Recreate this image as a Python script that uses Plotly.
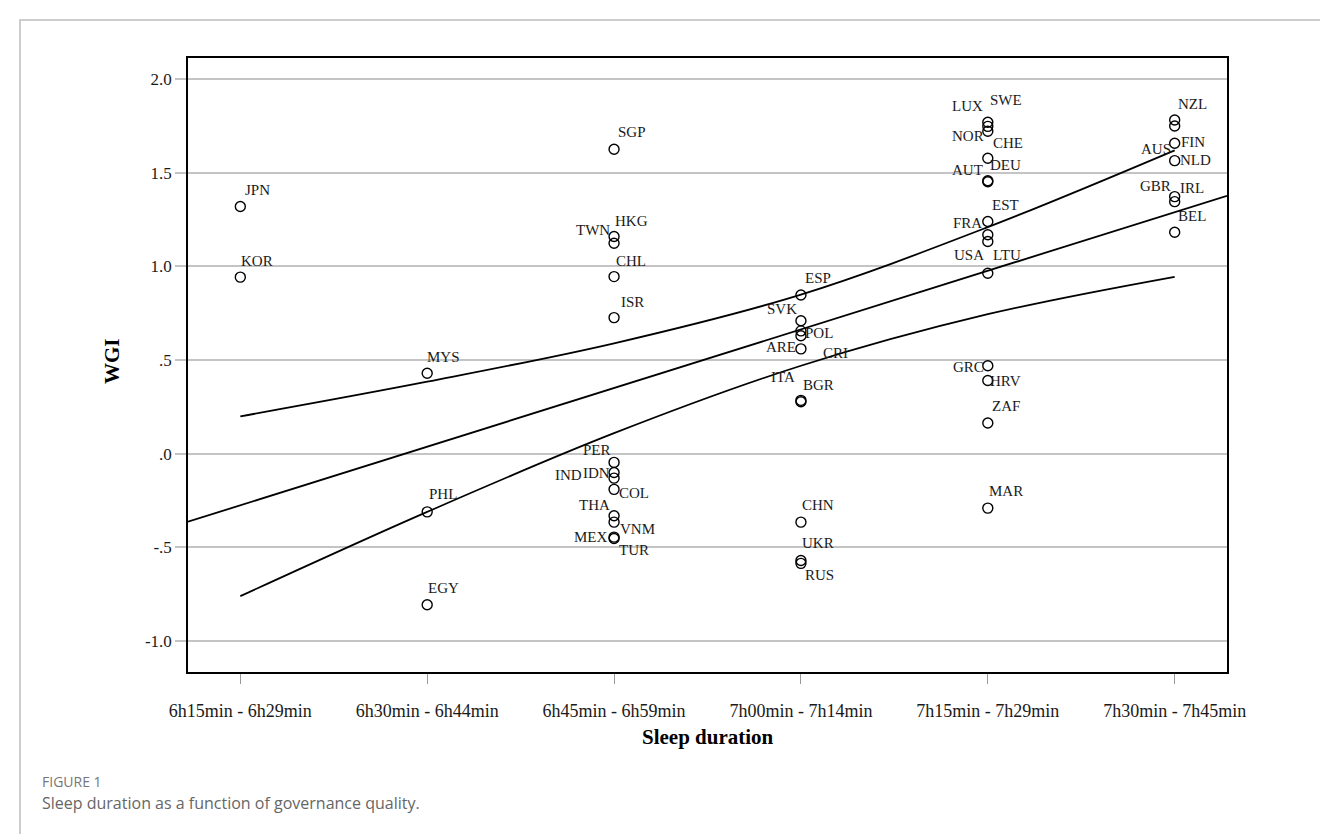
import plotly.graph_objects as go

# Sleep-duration bands shown on the x axis
categories = ["6h15min - 6h29min", "6h30min - 6h44min", "6h45min - 6h59min",
              "7h00min - 7h14min", "7h15min - 7h29min", "7h30min - 7h45min"]

# Countries, their sleep-duration band and governance score (WGI)
country = ["JPN", "KOR",
           "MYS", "PHL", "EGY",
           "SGP", "HKG", "TWN", "CHL", "ISR", "PER", "IDN", "IND", "COL",
           "THA", "VNM", "MEX", "TUR",
           "ESP", "SVK", "POL", "CRI", "ARE", "ITA", "BGR", "CHN", "UKR", "RUS",
           "SWE", "LUX", "NOR", "CHE", "DEU", "AUT", "EST", "FRA", "USA", "LTU",
           "GRC", "HRV", "ZAF", "MAR",
           "NZL", "FIN", "AUS", "NLD", "GBR", "IRL", "BEL"]
band = ([categories[0]] * 2 + [categories[1]] * 3 + [categories[2]] * 13 +
        [categories[3]] * 10 + [categories[4]] * 14 + [categories[5]] * 7)
wgi = [1.32, 0.943,
       0.43, -0.31, -0.806,
       1.626, 1.16, 1.124, 0.946, 0.727, -0.046, -0.10, -0.13, -0.19,
       -0.331, -0.365, -0.445, -0.452,
       0.848, 0.71, 0.656, 0.63, 0.56, 0.285, 0.278, -0.365, -0.57, -0.585,
       1.77, 1.748, 1.722, 1.578, 1.458, 1.452, 1.24, 1.169, 1.133, 0.964,
       0.47, 0.391, 0.164, -0.29,
       1.782, 1.75, 1.658, 1.565, 1.373, 1.346, 1.183]

# Linear fit of WGI on sleep band, and the 95% CI of the mean at each band
fit_intercept = -0.275
fit_slope = 0.313
ci_upper = [0.20, 0.385, 0.59, 0.85, 1.21, 1.62]
ci_lower = [-0.76, -0.31, 0.11, 0.47, 0.745, 0.945]

# Y tick labels
y_ticks = [-1.0, -0.5, 0.0, 0.5, 1.0, 1.5, 2.0]
y_ticktext = ["-1.0", "-.5", ".0", ".5", "1.0", "1.5", "2.0"]

# Label placement (pixels right, pixels down) next to each marker
label_offset = {
    "JPN": (17, -17), "KOR": (17, -16),
    "MYS": (16, -16), "PHL": (16, -18), "EGY": (16, -17),
    "SGP": (18, -17), "HKG": (17, -16), "TWN": (-21, -13), "CHL": (17, -16),
    "ISR": (18, -16), "PER": (-17, -12), "IDN": (-18, 0), "IND": (-46, -3),
    "COL": (20, 4), "THA": (-20, -11), "VNM": (23, 7), "MEX": (-23, 0),
    "TUR": (20, 12),
    "ESP": (17, -17), "SVK": (-19, -12), "POL": (18, 2), "CRI": (35, 17),
    "ARE": (-20, -2), "ITA": (-18, -23), "BGR": (18, -17), "CHN": (17, -17),
    "UKR": (17, -18), "RUS": (19, 12),
    "SWE": (18, -22), "LUX": (-20, -20), "NOR": (-20, 5), "CHE": (20, -15),
    "DEU": (18, -16), "AUT": (-20, -12), "EST": (18, -17), "FRA": (-20, -12),
    "USA": (-19, 13), "LTU": (19, -18), "GRC": (-19, 1), "HRV": (18, 0),
    "ZAF": (18, -17), "MAR": (18, -17),
    "NZL": (18, -16), "FIN": (18, 16), "AUS": (-19, 6), "NLD": (21, -1),
    "GBR": (-19, -11), "IRL": (17, -14), "BEL": (17, -16),
}

SERIF = "Liberation Serif, Times New Roman, serif"
SANS = "Open Sans, Noto Sans, sans-serif"

x_range = [-0.28, 5.28]
y_range = [-1.165, 2.113]

# plot-area pixel box, used to place figure-level text and frame
L, R, T, B = 188, 1227, 58, 672
W, H = 1320, 834


def px_x(px):
    return (px - L) / (R - L)


def px_y(py):
    return (B - py) / (B - T)


xpos = [categories.index(b) for b in band]
cat_idx = list(range(len(categories)))

fig = go.Figure()

# regression line across the full plot width
fig.add_trace(go.Scatter(
    x=x_range, y=[fit_intercept + fit_slope * x for x in x_range],
    mode="lines", line=dict(color="black", width=1.8), hoverinfo="skip"))

# confidence-interval curves
for ci in (ci_upper, ci_lower):
    fig.add_trace(go.Scatter(
        x=cat_idx, y=ci, mode="lines", line_shape="spline",
        line=dict(color="black", width=1.8), hoverinfo="skip"))

# country markers
fig.add_trace(go.Scatter(
    x=xpos, y=wgi, mode="markers", text=country,
    marker=dict(symbol="circle-open", size=10, color="black",
                line=dict(width=1.4, color="black"))))

annotations = []
for c, xv, yv in zip(country, xpos, wgi):
    dx, dy = label_offset[c]
    annotations.append(dict(
        x=xv, y=yv, xref="x", yref="y", text=c, showarrow=False,
        xanchor="center", yanchor="middle",
        xshift=dx, yshift=-dy, font=dict(family=SERIF, size=15, color="#1a1a1a")))

annotations += [
    dict(x=px_x(112), y=px_y(361), xref="paper", yref="paper", text="<b>WGI</b>",
         textangle=-90, showarrow=False, xanchor="center", yanchor="middle",
         font=dict(family=SERIF, size=21, color="black")),
    dict(x=0.5, y=px_y(737), xref="paper", yref="paper", text="<b>Sleep duration</b>",
         showarrow=False, xanchor="center", yanchor="middle",
         font=dict(family=SERIF, size=21, color="black")),
    dict(x=px_x(40), y=px_y(781), xref="paper", yref="paper", text="FIGURE 1",
         xanchor="left", yanchor="middle", showarrow=False,
         font=dict(family=SANS, size=14, color="#777777")),
    dict(x=px_x(40), y=px_y(803), xref="paper", yref="paper",
         text="Sleep duration as a function of governance quality.",
         xanchor="left", yanchor="middle", showarrow=False,
         font=dict(family=SANS, size=16, color="#666666")),
]

# outer panel border (top and left edges fall inside the page)
shapes = [dict(type="rect", xref="paper", yref="paper",
               x0=px_x(20), x1=px_x(W + 30), y0=px_y(H + 30), y1=px_y(20),
               line=dict(color="#bdbdbd", width=1.5), layer="below")]

fig.update_layout(
    width=W, height=H,
    margin=dict(l=L, r=W - R, t=T, b=H - B),
    paper_bgcolor="white", plot_bgcolor="white",
    showlegend=False,
    annotations=annotations,
    shapes=shapes,
    xaxis=dict(
        range=x_range, tickmode="array", tickvals=cat_idx, ticktext=categories,
        showgrid=False, zeroline=False,
        showline=True, mirror=True, linecolor="black", linewidth=1.5,
        ticks="outside", ticklen=10, tickcolor="#9a9a9a", tickwidth=1.2,
        ticklabelstandoff=12,
        tickfont=dict(family=SERIF, size=18, color="#1a1a1a")),
    yaxis=dict(
        range=y_range, tickmode="array", tickvals=y_ticks, ticktext=y_ticktext,
        showgrid=True, gridcolor="#c4c4c4", gridwidth=1.5, zeroline=False,
        showline=True, mirror=True, linecolor="black", linewidth=1.5,
        ticks="outside", ticklen=11, tickcolor="#c4c4c4", tickwidth=1.5,
        tickfont=dict(family=SERIF, size=17, color="#1a1a1a")),
)

fig.write_html("out.html")
